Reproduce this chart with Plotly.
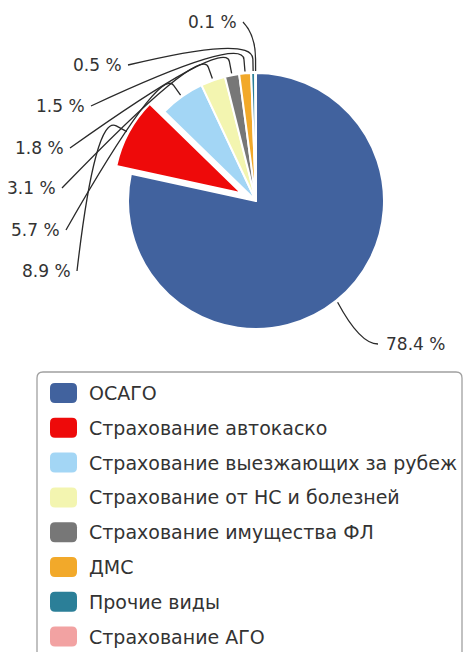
import math
import plotly.graph_objects as go

# ---------------- data ----------------
categories = ["ОСАГО", "Страхование автокаско", "Страхование выезжающих за рубеж",
              "Страхование от НС и болезней", "Страхование имущества ФЛ", "ДМС",
              "Прочие виды", "Страхование АГО"]
shares = [78.4, 8.9, 5.7, 3.1, 1.8, 1.5, 0.5, 0.1]

# ---------------- styles / layout ----------------
colors = ["#41629e", "#ee0a0a", "#a3d6f5", "#f3f5b0", "#777777", "#f2a92a", "#2b7f98", "#f2a2a2"]
pulls = [0, 0.13, 0, 0, 0, 0, 0, 0]

OFF = 8                              # page body margin
W, H = 471 - 2 * OFF, 660 - 2 * OFF  # figure size (fits inside the page)
CX, CY, R = 256, 201, 128            # pie centre / radius in window pixels
S = 2 * R * (1 + max(pulls))         # plotly shrinks radius by (1+maxPull)

# where each leader line meets its label (window pixels)
label_anchor = [(378, 344), (77, 271), (66, 230), (62, 188), (70, 148), (91, 106), (128, 65), (243, 22)]

LEG_BOX = (37, 372, 462, 672)
LEG_ROW0, LEG_STEP = 393, 34.8
SW_X0, SW_X1, SW_H = 50, 77, 20
TXT_X = 87
FONT = "DejaVu Sans"
TXT_COLOR = "#333333"


def pp(x, y):
    return (x - OFF) / W, 1 - (y - OFF) / H


def pstr(x, y):
    a, b = pp(x, y)
    return f"{a:.5f},{b:.5f}"


def roundrect(x0, y0, x1, y1, r):
    return (f"M {pstr(x0 + r, y0)} L {pstr(x1 - r, y0)} Q {pstr(x1, y0)} {pstr(x1, y0 + r)} "
            f"L {pstr(x1, y1 - r)} Q {pstr(x1, y1)} {pstr(x1 - r, y1)} "
            f"L {pstr(x0 + r, y1)} Q {pstr(x0, y1)} {pstr(x0, y1 - r)} "
            f"L {pstr(x0, y0 + r)} Q {pstr(x0, y0)} {pstr(x0 + r, y0)} Z")


fig = go.Figure()
dx0, dy1 = pp(CX - S / 2, CY - S / 2)
dx1, dy0 = pp(CX + S / 2, CY + S / 2)
fig.add_trace(go.Pie(
    labels=categories, values=shares, sort=False, direction="clockwise", rotation=0,
    pull=pulls, textinfo="none", showlegend=False,
    marker=dict(colors=colors, line=dict(color="white", width=2)),
    domain=dict(x=[dx0, dx1], y=[dy0, dy1]),
    hovertemplate="%{label}: %{value} %<extra></extra>",
))

shapes = []
annotations = []

# leader lines and percentage labels
total = sum(shares)
cum = 0.0
for i, v in enumerate(shares):
    mid = (cum + v / 2) / total * 2 * math.pi
    cum += v
    dx, dy = math.sin(mid), -math.cos(mid)
    cx = CX + dx * pulls[i] * R
    cy = CY + dy * pulls[i] * R
    p0 = (cx + dx * (R + 2), cy + dy * (R + 2))
    lx, ly = label_anchor[i]
    if i == 0:
        path = f"M {pstr(*p0)} Q {pstr(lx - 18, ly)} {pstr(lx, ly)}"
    else:
        p1 = (cx + dx * (R + 14), cy + dy * (R + 14))
        c = (p1[0] + dx * 24, p1[1] + dy * 24)
        path = f"M {pstr(lx, ly)} Q {pstr(*c)} {pstr(*p1)} L {pstr(*p0)}"
    shapes.append(dict(type="path", path=path, xref="paper", yref="paper",
                       line=dict(color="#2a2a2a", width=1.3)))
    ax, ay = pp(lx + 6, ly) if i == 0 else pp(lx - 4, ly)
    annotations.append(dict(x=ax, y=ay, xref="paper", yref="paper", showarrow=False,
                            text=f"{v:.1f} %", xanchor="left" if i == 0 else "right",
                            yanchor="middle", font=dict(family=FONT, size=17, color=TXT_COLOR)))

# legend box
x0, y0, x1, y1 = LEG_BOX
shapes.append(dict(type="path", path=roundrect(x0, y0, x1, y1, 6), xref="paper", yref="paper",
                   line=dict(color="#a0a0a0", width=1.3), fillcolor="white", layer="below"))
for i, name in enumerate(categories):
    yc = LEG_ROW0 + i * LEG_STEP
    shapes.append(dict(type="path", path=roundrect(SW_X0, yc - SW_H / 2, SW_X1, yc + SW_H / 2, 5),
                       xref="paper", yref="paper", line=dict(width=0), fillcolor=colors[i]))
    tx, ty = pp(TXT_X, yc)
    annotations.append(dict(x=tx, y=ty, xref="paper", yref="paper", showarrow=False, text=name,
                            xanchor="left", yanchor="middle",
                            font=dict(family=FONT, size=19, color=TXT_COLOR)))

fig.update_layout(
    width=W, height=H, autosize=False,
    margin=dict(l=0, r=0, t=0, b=0),
    paper_bgcolor="white", plot_bgcolor="white",
    shapes=shapes, annotations=annotations,
    font=dict(family=FONT),
)

fig.write_html("out.html")
